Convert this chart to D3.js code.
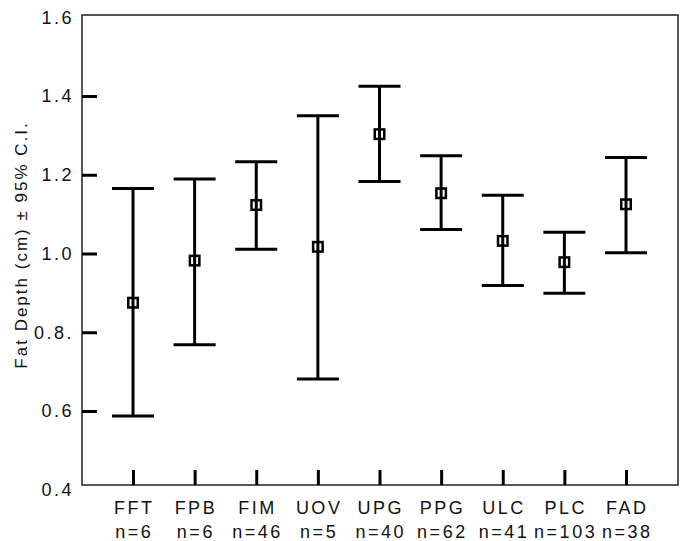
<!DOCTYPE html>
<html>
<head>
<meta charset="utf-8">
<script src="https://cdn.jsdelivr.net/npm/d3@7"></script>
<style>
  body { margin: 0; background: #fff; }
  text { font-family: "Liberation Sans", Arial, sans-serif; fill: #111; }
</style>
</head>
<body>
<div id="chart"></div>
<script>
// ******************************* DATA ****************************************
var categories = ["FFT", "FPB", "FIM", "UOV", "UPG", "PPG", "ULC", "PLC", "FAD"];
var sampleSizes = [6, 6, 46, 5, 40, 62, 41, 103, 38];
var means = [0.875, 0.982, 1.123, 1.017, 1.303, 1.153, 1.032, 0.978, 1.125];
var upperCI = [1.165, 1.189, 1.233, 1.350, 1.425, 1.248, 1.148, 1.054, 1.244];
var lowerCI = [0.587, 0.768, 1.011, 0.681, 1.183, 1.061, 0.919, 0.899, 1.002];

var yTickValues = [0.4, 0.6, 0.8, 1.0, 1.2, 1.4, 1.6];
var yTickLabels = ["0.4", "0.6", "0.8.", "1.0", "1.2", "1.4", "1.6"];
var yInnerTicks = [0.6, 0.8, 1.0, 1.2, 1.4];

var data = categories.map(function(c, i) {
  return {cat: c, n: sampleSizes[i], mean: means[i], hi: upperCI[i], lo: lowerCI[i]};
});

// ***************************** CANVAS ****************************************
var svgWidth = 683, svgHeight = 541;
var box = {left: 82, right: 678, top: 15, bottom: 485};

var svg = d3.select("#chart").append("svg")
  .attr("width", svgWidth)
  .attr("height", svgHeight);

// ***************************** SCALES ****************************************
var x = d3.scalePoint()
  .domain(categories)
  .range([133, 626]);

var y = d3.scaleLinear()
  .domain([0.4, 1.6])
  .range([489.75, 17.25]);

// ****************************** FRAME ****************************************
svg.append("rect")
  .attr("x", box.left)
  .attr("y", box.top)
  .attr("width", box.right - box.left)
  .attr("height", box.bottom - box.top)
  .attr("fill", "none")
  .attr("stroke", "#222")
  .attr("stroke-width", 1.5);

// ******************************* AXES ****************************************
// inward ticks on the left
var leftTicks = svg.append("g")
  .attr("transform", "translate(" + box.left + ",0)")
  .call(d3.axisRight(y).tickValues(yInnerTicks).tickSize(15).tickFormat(""));
leftTicks.select(".domain").remove();
leftTicks.selectAll("line").attr("stroke", "#000").attr("stroke-width", 3);

// left labels
svg.append("g").selectAll("text")
  .data(yTickValues)
  .enter().append("text")
    .attr("x", 74)
    .attr("y", d => y(d))
    .attr("dy", "0.36em")
    .attr("text-anchor", "end")
    .style("font-size", "18px")
    .style("letter-spacing", "2.5px")
    .text((d, i) => yTickLabels[i]);

// inward ticks on the bottom
var bottomTicks = svg.append("g")
  .attr("transform", "translate(0," + box.bottom + ")")
  .call(d3.axisTop(x).tickSize(15).tickFormat(""));
bottomTicks.select(".domain").remove();
bottomTicks.selectAll("line").attr("stroke", "#000").attr("stroke-width", 3);

// category labels, two lines
var catLabels = svg.append("g").selectAll("g")
  .data(data)
  .enter().append("g")
    .attr("transform", d => "translate(" + (x(d.cat) + 1.25) + ",0)");

catLabels.append("text")
  .attr("y", 514)
  .attr("text-anchor", "middle")
  .style("font-size", "18px")
  .style("letter-spacing", "2.5px")
  .text(d => d.cat);

catLabels.append("text")
  .attr("y", 538)
  .attr("text-anchor", "middle")
  .style("font-size", "18px")
  .style("letter-spacing", "2.5px")
  .text(d => "n=" + d.n);

// y axis title
svg.append("text")
  .attr("transform", "translate(27,245) rotate(-90)")
  .attr("text-anchor", "middle")
  .style("font-size", "17px")
  .style("letter-spacing", "2px")
  .text("Fat Depth (cm) \u00b1 95% C.I.");

// **************************** ERROR BARS *************************************
var bars = svg.append("g").selectAll("g")
  .data(data)
  .enter().append("g");

bars.append("line")
  .attr("x1", d => x(d.cat))
  .attr("x2", d => x(d.cat))
  .attr("y1", d => y(d.hi))
  .attr("y2", d => y(d.lo))
  .attr("stroke", "#000")
  .attr("stroke-width", 3);

bars.append("line")
  .attr("x1", d => x(d.cat) - 21)
  .attr("x2", d => x(d.cat) + 21)
  .attr("y1", d => y(d.hi))
  .attr("y2", d => y(d.hi))
  .attr("stroke", "#000")
  .attr("stroke-width", 3);

bars.append("line")
  .attr("x1", d => x(d.cat) - 21)
  .attr("x2", d => x(d.cat) + 21)
  .attr("y1", d => y(d.lo))
  .attr("y2", d => y(d.lo))
  .attr("stroke", "#000")
  .attr("stroke-width", 3);

// mean markers (open squares)
bars.append("rect")
  .attr("x", d => x(d.cat) - 4.75)
  .attr("y", d => y(d.mean) - 4.75)
  .attr("width", 9.5)
  .attr("height", 9.5)
  .attr("fill", "none")
  .attr("stroke", "#000")
  .attr("stroke-width", 2.5);
</script>
</body>
</html>
